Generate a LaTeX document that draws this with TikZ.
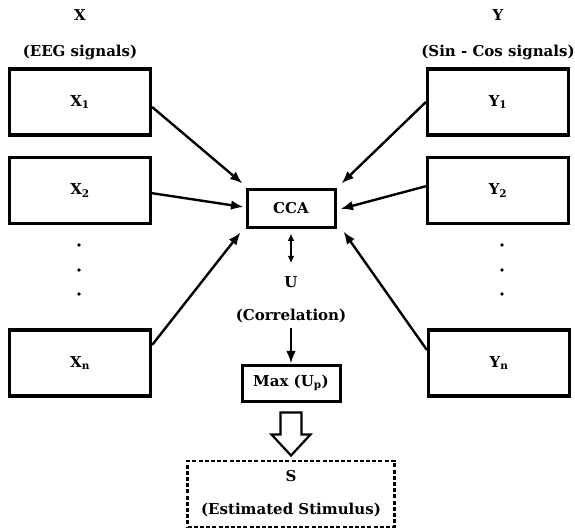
\documentclass[tikz,border=0pt]{standalone}
\usepackage{fontspec}
\setmainfont{DejaVu Serif}
\usepackage{tikz}
\usetikzlibrary{arrows.meta,positioning,calc}
\tikzset{
    sigBox/.style={
        draw,
        line width=3.2pt,
        minimum width=141pt,
        minimum height=66pt,
        inner sep=0pt
    },
    ccaBox/.style={
        draw,
        line width=3pt,
        minimum width=88pt,
        minimum height=38pt,
        inner sep=0pt
    },
    flowArrow/.style={
        -{Latex[length=4.4mm,width=3.4mm]},
        line width=2.4pt
    },
    dblArrow/.style={
        {Latex[length=2.6mm,width=2.4mm]}-{Latex[length=2.6mm,width=2.4mm]},
        line width=1.6pt
    },
    hollowArrow/.style={
        draw,
        line width=2.2pt,
        fill=white,
        line join=miter
    },
    dashBox/.style={
        draw,
        dashed,
        dash pattern=on 4pt off 2.2pt,
        line width=2.2pt,
        minimum width=207pt,
        minimum height=66pt,
        inner sep=0pt
    },
    txt/.style={
        font=\bfseries\fontsize{15}{18}\selectfont,
        inner sep=3pt
    }
}

\begin{document}
\begin{tikzpicture}[x=1pt,y=-1pt]
    \useasboundingbox (0,0) rectangle (575,530);

    % column titles
    \node[txt] (xlab) at (80,15) {X};
    \node[txt] (xsub) at (80,52) {(EEG signals)};
    \node[txt] (ylab) at (498,15) {Y};
    \node[txt] (ysub) at (498,52) {(Sin - Cos signals)};

    % signal boxes
    \node[sigBox,txt,inner sep=0pt] (x1) at (80,102) {X\textsubscript{1}};
    \node[sigBox,txt,inner sep=0pt,below=19pt of x1] (x2) {X\textsubscript{2}};
    \node[sigBox,txt,inner sep=0pt] (xn) at (80,363) {X\textsubscript{n}};
    \node[sigBox,txt,inner sep=0pt] (y1) at (498,102) {Y\textsubscript{1}};
    \node[sigBox,txt,inner sep=0pt,below=19pt of y1] (y2) {Y\textsubscript{2}};
    \node[sigBox,txt,inner sep=0pt] (yn) at (499,363) {Y\textsubscript{n}};

    \foreach \yy in {245,270,294} {
        \fill (79,\yy) circle (1.9pt);
        \fill (502,\yy) circle (1.9pt);
    }

    % middle column
    \node[ccaBox,txt,inner sep=0pt] (cca) at (291,208) {CCA};
    \node[txt] (u) at (291,282) {U};
    \node[txt] (corr) at (291,316) {(Correlation)};
    \node[ccaBox,txt,inner sep=0pt,minimum width=98pt,minimum height=36pt] (max) at (291,383) {Max (U\textsubscript{p})};
    \node[dashBox,txt,inner sep=0pt,align=center] (s) at (291,494) {S\\[15pt](Estimated Stimulus)};

    % connectors
    \draw[flowArrow] ([yshift=-5pt]x1.east) -- ($(cca.north west)+(-3,-4)$);
    \draw[flowArrow] ([yshift=-3pt]x2.east) -- ($(cca.west)+(-2,-1)$);
    \draw[flowArrow] ([yshift=18pt]xn.east) -- ($(cca.south west)+(-5,4)$);
    \draw[flowArrow] (y1.west) -- ($(cca.north east)+(5,-4)$);
    \draw[flowArrow] ([yshift=4pt]y2.west) -- ($(cca.east)+(4,1)$);
    \draw[flowArrow] ([yshift=13pt]yn.west) -- ($(cca.south east)+(7,3)$);

    \draw[dblArrow,shorten <=5pt,shorten >=10pt] (cca) -- (u);
    \draw[flowArrow,shorten <=2pt] (corr) -- (max);

    \draw[hollowArrow] ($(max.south)+(-10.5,10)$) -- ++(21,0) -- ++(0,22)
        -- ++(9,0) -- ++(-19.5,21) -- ++(-19.5,-21) -- ++(9,0) -- cycle;
\end{tikzpicture}
\end{document}
